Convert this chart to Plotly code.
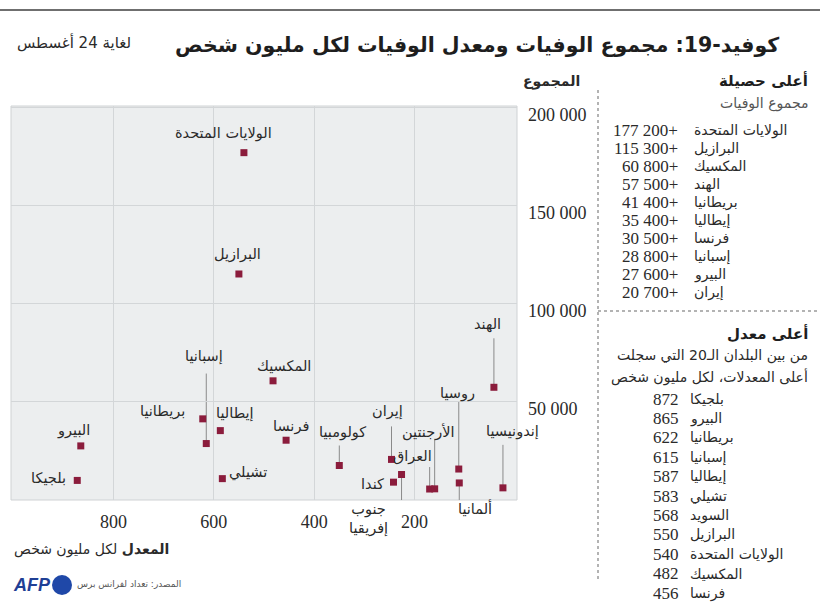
import plotly.graph_objects as go

# ---------------- data ----------------
countries = ["الولايات المتحدة", "البرازيل", "المكسيك", "الهند", "بريطانيا", "إيطاليا",
             "إسبانيا", "فرنسا", "البيرو", "بلجيكا", "تشيلي", "كولومبيا", "إيران",
             "جنوب<br>إفريقيا", "كندا", "العراق", "الأرجنتين", "روسيا", "ألمانيا", "إندونيسيا"]
rate_per_million = [540, 550, 482, 42, 622, 587, 615, 456, 865, 872, 583, 350, 246,
                    226, 242, 170, 160, 112, 111, 24]
total_deaths = [177200, 115300, 60800, 57500, 41400, 35400, 28800, 30500, 27600, 9990,
                10900, 17600, 20700, 13000, 9100, 5600, 5700, 15800, 8700, 6200]

x_ticks = [800, 600, 400, 200]
x_ticktext = ["800", "600", "400", "200"]
y_ticks = [50000, 100000, 150000, 200000]
y_ticktext = ["50 000", "100 000", "150 000", "200 000"]

top_toll_names = ["الولايات المتحدة", "البرازيل", "المكسيك", "الهند", "بريطانيا",
                  "إيطاليا", "فرنسا", "إسبانيا", "البيرو", "إيران"]
top_toll_values = ["177 200+", "115 300+", "60 800+", "57 500+", "41 400+",
                   "35 400+", "30 500+", "28 800+", "27 600+", "20 700+"]

top_rate_names = ["بلجيكا", "البيرو", "بريطانيا", "إسبانيا", "إيطاليا", "تشيلي",
                  "السويد", "البرازيل", "الولايات المتحدة", "المكسيك", "فرنسا"]
top_rate_values = [872, 865, 622, 615, 587, 583, 568, 550, 540, 482, 456]

# ---------------- styling (pixel offsets for labels / leaders) ----------------
W, H = 820, 613
label_offsets = {  # (dx, dy) in px, dy positive = down
    "الولايات المتحدة": (-20, -19), "البرازيل": (-1, -19), "المكسيك": (11, -15),
    "الهند": (-6, -63), "بريطانيا": (-40, -7), "إيطاليا": (15, -17),
    "إسبانيا": (-2, -87), "فرنسا": (5, -14), "البيرو": (-7, -15), "بلجيكا": (-29, -2),
    "تشيلي": (26, -6), "كولومبيا": (3, -33), "إيران": (-4, -48),
    "جنوب<br>إفريقيا": (-33, 44), "كندا": (-21, 2), "العراق": (-17, -33),
    "الأرجنتين": (-7, -57), "روسيا": (-1, -76), "ألمانيا": (16, 25), "إندونيسيا": (10, -56),
}
leaders = {  # vertical leader length in px (positive = up)
    "الهند": 49, "إسبانيا": 70, "كولومبيا": 20, "إيران": 33, "العراق": 22,
    "الأرجنتين": 50, "روسيا": 67, "إندونيسيا": 43, "ألمانيا": -17, "جنوب<br>إفريقيا": -34,
}

FONT = "Liberation Serif, DejaVu Sans, sans-serif"
AR = "DejaVu Sans, sans-serif"
TXT = "#2a2a2a"
MARK = "#8b1c3c"
LEAD = "#8a8a8a"


def px(x):
    return x / W


def py(y):
    return 1 - y / H


def note(x, y, text, size, xanchor="left", color=TXT, family=AR):
    return dict(x=px(x), y=py(y), xref="paper", yref="paper", xanchor=xanchor,
                yanchor="middle", text=text, showarrow=False,
                font=dict(family=family, size=size, color=color))


fig = go.Figure()
fig.add_trace(go.Scatter(
    x=rate_per_million, y=total_deaths, mode="markers",
    marker=dict(symbol="square", size=7, color=MARK, line=dict(width=0)),
    hoverinfo="skip", showlegend=False))

shapes = []
annotations = []

# leader lines
for name, L in leaders.items():
    i = countries.index(name)
    shapes.append(dict(type="line", xref="x", yref="y", xsizemode="pixel", ysizemode="pixel",
                       xanchor=rate_per_million[i], yanchor=total_deaths[i],
                       x0=0, x1=0, y0=0, y1=L, line=dict(color=LEAD, width=1), layer="below"))
# horizontal hook for South Africa
i_sa = countries.index("جنوب<br>إفريقيا")
shapes.append(dict(type="line", xref="x", yref="y", xsizemode="pixel", ysizemode="pixel",
                   xanchor=rate_per_million[i_sa], yanchor=total_deaths[i_sa],
                   x0=0, x1=-12, y0=-34, y1=-34, line=dict(color=LEAD, width=1), layer="below"))

# point labels
for name, xv, yv in zip(countries, rate_per_million, total_deaths):
    dx, dy = label_offsets[name]
    annotations.append(dict(x=xv, y=yv, xref="x", yref="y", text=name, showarrow=False,
                            xanchor="center", yanchor="middle",
                            xshift=dx, yshift=-dy, font=dict(family=AR, size=14.5, color=TXT)))

# plot border
shapes.append(dict(type="rect", xref="paper", yref="paper", x0=px(11), x1=px(517),
                   y0=py(500), y1=py(106), line=dict(color="#cfd2d4", width=1), layer="below"))

# top rule
shapes.append(dict(type="line", xref="paper", yref="paper", x0=0, x1=1, y0=py(10), y1=py(10),
                   line=dict(color="#6f6f6f", width=2)))
# dotted separators
shapes.append(dict(type="line", xref="paper", yref="paper", x0=px(598), x1=px(598),
                   y0=py(90), y1=py(582), line=dict(color="#9a9a9a", width=1.5, dash="dot")))
shapes.append(dict(type="line", xref="paper", yref="paper", x0=px(598), x1=1,
                   y0=py(311), y1=py(311), line=dict(color="#9a9a9a", width=1.5, dash="dot")))
# AFP circle
shapes.append(dict(type="circle", xref="paper", yref="paper", x0=px(52), x1=px(72),
                   y0=py(595), y1=py(575), fillcolor="#1f48a8", line=dict(width=0)))

# titles
annotations.append(note(781, 45, "<b>كوفيد-19: مجموع الوفيات ومعدل الوفيات لكل مليون شخص</b>",
                        20.5, "right", "#1e1e1e"))
annotations.append(note(15, 43, "لغاية 24 أغسطس", 15))
annotations.append(note(582, 82, "<b>المجموع</b>", 14, "right"))
annotations.append(note(12, 549, "<b>المعدل</b> لكل مليون شخص", 14))
annotations.append(note(75, 584, "المصدر: تعداد لفرانس برس", 9, color="#555"))
annotations.append(note(11, 585, "<b><i>AFP</i></b>", 18, color="#1f3f95",
                        family="Liberation Sans, Arial"))

# right panel: top tolls
annotations.append(note(810, 80, "<b>أعلى حصيلة</b>", 15, "right", "#1e1e1e"))
annotations.append(note(810, 103, "مجموع الوفيات", 14, "right", "#555"))
for k, (nm, val) in enumerate(zip(top_toll_names, top_toll_values)):
    yy = 130 + k * 18.1
    annotations.append(note(680, yy, val, 17, "right", family=FONT))
    annotations.append(note(692, yy, nm, 14))

# right panel: top rates
annotations.append(note(810, 333, "<b>أعلى معدل</b>", 15, "right", "#1e1e1e"))
annotations.append(note(810, 355, "من بين البلدان الـ20 التي سجلت", 14, "right"))
annotations.append(note(810, 377, "أعلى المعدلات، لكل مليون شخص", 14, "right"))
for k, (nm, val) in enumerate(zip(top_rate_names, top_rate_values)):
    yy = 399 + k * 19.4
    annotations.append(note(681, yy, str(val), 17, "right", family=FONT))
    annotations.append(note(688, yy, nm, 14))

fig.update_layout(
    width=W, height=H, margin=dict(l=0, r=0, t=0, b=0, autoexpand=False),
    paper_bgcolor="white", plot_bgcolor="#eceeef",
    font=dict(family=FONT, color=TXT),
    shapes=shapes, annotations=annotations, showlegend=False,
    xaxis=dict(domain=[px(11), px(517)], range=[1004, -4], tickvals=x_ticks,
               ticktext=x_ticktext, showgrid=True, gridcolor="#d3d6d8", gridwidth=1,
               zeroline=False, showline=False, ticks="", ticklabelstandoff=9,
               automargin=False,
               tickfont=dict(family=FONT, size=18, color=TXT), fixedrange=True),
    yaxis=dict(domain=[py(500), py(106)], range=[0, 201000], side="right",
               tickvals=y_ticks, ticktext=y_ticktext, showgrid=True, gridcolor="#d3d6d8",
               gridwidth=1, zeroline=False, showline=False, ticks="", automargin=False,
               ticklabelstandoff=10, ticklabelshift=7,
               tickfont=dict(family=FONT, size=18, color=TXT), fixedrange=True),
)

fig.write_html("out.html")
